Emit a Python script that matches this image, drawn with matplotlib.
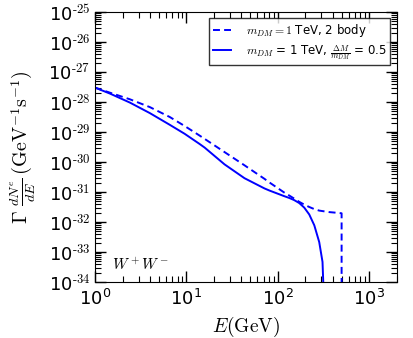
import numpy as np
import matplotlib
matplotlib.use("Agg")
import matplotlib.pyplot as plt
from matplotlib.ticker import FuncFormatter, LogLocator, NullFormatter

plt.rcParams['mathtext.fontset'] = 'cm'
plt.rcParams['font.family'] = ['DejaVu Sans']
plt.rcParams['lines.scale_dashes'] = False

# Data (log10 E [GeV], log10 flux)
logE_2body = [0.0, 0.164, 0.382, 0.60, 0.818, 0.981, 1.145, 1.2, 1.418, 1.636, 1.854, 1.908,
              2.072, 2.127, 2.18, 2.236, 2.29, 2.345, 2.40, 2.454, 2.563, 2.672, 2.699, 2.699]
logF_2body = [-27.52, -27.69, -27.91, -28.17, -28.50, -28.80, -29.12, -29.23, -29.67, -30.11, -30.56, -30.68,
              -31.02, -31.12, -31.22, -31.33, -31.42, -31.50, -31.57, -31.62, -31.67, -31.70, -31.71, -35.0]

logE_3body = [0.0, 0.164, 0.382, 0.60, 0.818, 0.981, 1.145, 1.2, 1.418, 1.636, 1.854, 1.908,
              2.072, 2.127, 2.18, 2.236, 2.29, 2.345, 2.40, 2.454, 2.49, 2.51]
logF_3body = [-27.52, -27.72, -28.02, -28.37, -28.76, -29.06, -29.40, -29.52, -30.08, -30.54, -30.88, -30.95,
              -31.14, -31.20, -31.27, -31.37, -31.52, -31.75, -32.11, -32.67, -33.33, -35.0]

label_2body = r'$m_{DM}=1$ TeV, 2 body'
label_3body = r'$m_{DM}$ = 1 TeV, $\frac{\Delta M}{m_{DM}}$ = 0.5'


def log_fmt(v, pos):
    e = int(round(np.log10(v)))
    if e < 0:
        return r'$\mathdefault{10^{\text{-%d}}}$' % (-e)
    return r'$\mathdefault{10^{%d}}$' % e


fig = plt.figure(figsize=(4.14, 3.38), dpi=100)
ax = fig.add_axes([0.2295, 0.1657, 0.7285, 0.7988])

E2 = 10 ** np.array(logE_2body)
F2 = 10 ** np.array(logF_2body)
E3 = 10 ** np.array(logE_3body)
F3 = 10 ** np.array(logF_3body)

ax.plot(E2, F2, color='b', lw=1.4, linestyle=(0, (5.0, 3.0)), label=label_2body)
ax.plot(E3, F3, color='b', lw=1.4, linestyle='-', label=label_3body)

ax.set_xscale('log')
ax.set_yscale('log')
ax.set_xlim(1, 2000)
ax.set_ylim(1e-34, 1e-25)

ax.tick_params(which='both', direction='in', top=True, right=True, labelsize=13)
ax.tick_params(axis='x', which='major', pad=5)
ax.tick_params(which='major', length=8, width=1)
ax.tick_params(which='minor', length=4, width=0.8)
ax.yaxis.set_major_locator(LogLocator(base=10, numticks=20))
ax.yaxis.set_minor_locator(LogLocator(base=10, subs=np.arange(2, 10), numticks=20))
ax.yaxis.set_minor_formatter(NullFormatter())
ax.yaxis.set_major_formatter(FuncFormatter(log_fmt))
ax.xaxis.set_major_formatter(FuncFormatter(log_fmt))

ax.set_xlabel(r'$E(\mathrm{GeV})$', fontsize=14)
ax.xaxis.set_label_coords(0.5, -0.12)
ax.set_ylabel(r'$\Gamma\ \frac{dN^e}{dE}\,(\mathrm{GeV}^{-1}\mathrm{s}^{-1})$', fontsize=14.5)
ax.yaxis.set_label_coords(-0.19, 0.5)

ax.text(0.055, 0.045, r'$W^+W^-$', transform=ax.transAxes, fontsize=11)

leg = ax.legend(loc='upper right', fontsize=8.5, frameon=True, fancybox=False,
                edgecolor='black', handlelength=1.6, handletextpad=1.2, borderpad=0.3,
                labelspacing=0.3, borderaxespad=0.55)
leg.get_frame().set_linewidth(1.0)

fig.savefig('out.png', dpi=100)
